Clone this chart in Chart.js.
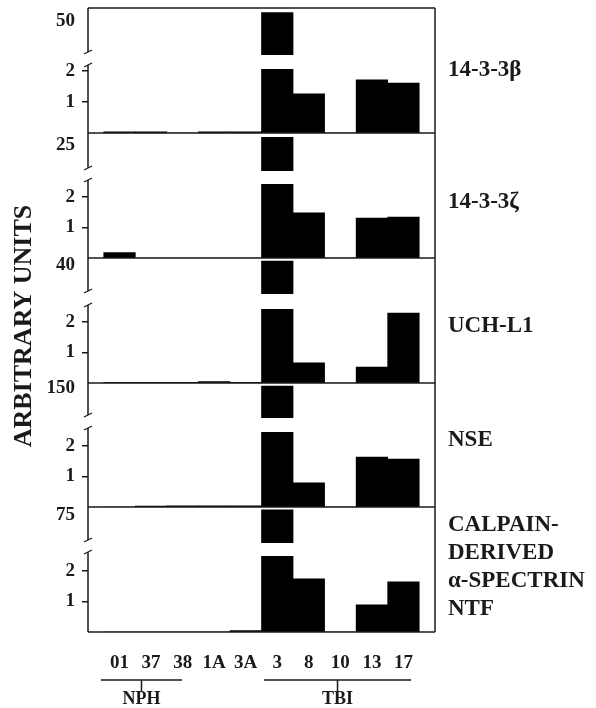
<!DOCTYPE html>
<html>
<head>
<meta charset="utf-8">
<script src="https://cdn.jsdelivr.net/npm/chart.js@4.4.0/dist/chart.umd.min.js"></script>
<style>
  body { margin: 0; background: #fff; }
  #chart { display: block; }
</style>
</head>
<body>
<canvas id="chart" width="596" height="708"></canvas>
<script>
// Patients along the x axis
const CATS = ['01', '37', '38', '1A', '3A', '3', '8', '10', '13', '17'];

// Arbitrary units per marker (patient 3 is off the scale, shown in the upper break)
const BETA  = [0.04, 0.04, 0, 0.04, 0.04, 52, 1.26, 0, 1.71, 1.61];
const ZETA  = [0.18, 0, 0, 0, 0, 27, 1.48, 0, 1.31, 1.34];
const UCHL1 = [0.02, 0.02, 0.02, 0.05, 0.02, 40.5, 0.66, 0, 0.52, 2.3];
const NSE   = [0, 0.03, 0.04, 0.04, 0.04, 150, 0.79, 0, 1.64, 1.57];
const SBDP  = [0, 0, 0, 0, 0.05, 76.4, 1.74, 0, 0.89, 1.64];

const SERIES = [BETA, ZETA, UCHL1, NSE, SBDP];
const NAMES = [['14-3-3β'], ['14-3-3ζ'], ['UCH-L1'], ['NSE'], ['CALPAIN-', 'DERIVED', 'α-SPECTRIN', 'NTF']];

// Broken axis: lower part 0..LO_MAX with ticks 1,2; upper part shows one tick
const LO_TICKS = [1, 2];
const HI_TICK = [50, 25, 40, 150, 75];

// Layout (pixel heights of each panel piece, axis ranges)
const LO_MAX = [2.06, 2.43, 2.43, 2.46, 2.49];
const HI_RANGE = [[38.5, 53.5], [15, 28.5], [30, 41.5], [130, 152], [60, 77.8]];
const HI_H  = [47, 38, 36, 35, 36];
const GAP_H = [14, 13, 15, 14, 13];
const LO_H  = [64, 74, 74, 75, 76];
const NAME_DY = [62, 69, 68, 57, 18]; // label offset from panel top
const GROUPS = [
    { name: 'NPH', from: -0.59, to: 1.98 },
    { name: 'TBI', from: 4.58, to: 9.24 }
];

const SERIF = "'Liberation Serif', 'DejaVu Serif', serif";
const INK = '#1a1a1a';
const AXIS_W = 88;

function tickFont(size) {
    return { family: SERIF, size: size, weight: 'bold' };
}

function yAxis(weight, extra) {
    return Object.assign({
        type: 'linear',
        position: 'left',
        stack: 'panels',
        stackWeight: weight,
        offset: false,
        border: { display: false },
        grid: { display: true, drawOnChartArea: false, drawTicks: true, tickLength: 6, color: INK, lineWidth: 1.5 },
        ticks: { font: tickFont(19), color: INK, padding: 7, autoSkip: false },
        afterFit: s => {
            s.width = AXIS_W;
            s.paddingTop = 0;
            s.paddingBottom = 0;
        }
    }, extra);
}

const scales = {
    x: {
        type: 'linear',
        position: 'bottom',
        min: -1,
        max: CATS.length,
        offset: false,
        grid: { display: false, drawTicks: false, offset: false },
        border: { display: false },
        afterBuildTicks: s => { s.ticks = CATS.map((c, i) => ({ value: i })); },
        ticks: {
            autoSkip: false,
            maxRotation: 0,
            font: tickFont(19),
            color: INK,
            padding: 20,
            callback: v => CATS[v] ?? ''
        },
        afterFit: s => {
            s.height = 76;
            s.paddingLeft = 0;
            s.paddingRight = 0;
        }
    }
};

// stacked left axes are laid out last-defined on top, so add them bottom-up
for (let p = SERIES.length - 1; p >= 0; p--) {
    scales['lo' + p] = yAxis(LO_H[p], {
        min: 0,
        max: LO_MAX[p],
        afterBuildTicks: s => { s.ticks = LO_TICKS.map(v => ({ value: v })); }
    });
    scales['gap' + p] = yAxis(GAP_H[p], {
        min: 0, max: 1,
        grid: { display: false },
        ticks: { display: false }
    });
    scales['hi' + p] = yAxis(HI_H[p], {
        min: HI_RANGE[p][0],
        max: HI_RANGE[p][1],
        afterBuildTicks: s => { s.ticks = [{ value: HI_TICK[p] }]; },
        grid: { display: true, drawOnChartArea: false, drawTicks: true, tickLength: 6, color: 'rgba(0,0,0,0)' },
        ticks: { font: tickFont(19), color: INK, padding: 7, autoSkip: false, labelOffset: 2 }
    });
}

const datasets = [];
SERIES.forEach((vals, p) => {
    ['hi', 'lo'].forEach(part => {
        datasets.push({
            label: NAMES[p].join(' ') + ' ' + part,
            data: vals.map((v, i) => ({ x: i, y: v })),
            yAxisID: part + p,
            xAxisID: 'x',
            backgroundColor: '#000',
            borderWidth: 0,
            barPercentage: 1,
            categoryPercentage: 1,
            grouped: false
        });
    });
});

// keep each half of a broken bar inside its own axis band
const clipToAxis = {
    id: 'clipToAxis',
    beforeDatasetDraw(chart, args) {
        const s = chart.scales[args.meta.yAxisID];
        const ctx = chart.ctx;
        ctx.save();
        ctx.beginPath();
        ctx.rect(chart.chartArea.left, s.top, chart.chartArea.width, s.bottom - s.top);
        ctx.clip();
    },
    afterDatasetDraw(chart) {
        chart.ctx.restore();
    }
};

// frame, broken left axis, panel names, group brackets, y title
const decorations = {
    id: 'decorations',
    afterDraw(chart) {
        const ctx = chart.ctx;
        const area = chart.chartArea;
        const x = chart.scales.x;
        ctx.save();
        ctx.strokeStyle = INK;
        ctx.fillStyle = INK;
        ctx.lineWidth = 1.5;

        // top and right
        ctx.beginPath();
        ctx.moveTo(area.left, area.top);
        ctx.lineTo(area.right, area.top);
        ctx.moveTo(area.right, area.top);
        ctx.lineTo(area.right, area.bottom);
        ctx.stroke();

        SERIES.forEach((vals, p) => {
            const hi = chart.scales['hi' + p];
            const lo = chart.scales['lo' + p];
            const base = lo.getPixelForValue(0);

            // zero line / panel separator
            ctx.beginPath();
            ctx.moveTo(area.left, base);
            ctx.lineTo(area.right, base);
            ctx.stroke();

            // left axis, broken between upper and lower parts
            const b1 = hi.bottom - 3;
            const b2 = lo.top - 4;
            ctx.beginPath();
            ctx.moveTo(area.left, hi.top);
            ctx.lineTo(area.left, b1);
            ctx.moveTo(area.left, b2);
            ctx.lineTo(area.left, lo.bottom);
            ctx.stroke();
            ctx.lineWidth = 1.2;
            ctx.beginPath();
            ctx.moveTo(area.left - 4, b1 + 2);
            ctx.lineTo(area.left + 4, b1 - 2);
            ctx.moveTo(area.left - 4, b2 + 2);
            ctx.lineTo(area.left + 4, b2 - 2);
            ctx.stroke();
            ctx.lineWidth = 1.5;

            // panel name on the right
            ctx.font = 'bold 23px ' + SERIF;
            ctx.textAlign = 'left';
            ctx.textBaseline = 'middle';
            NAMES[p].forEach((line, k) => {
                ctx.fillText(line, area.right + 13, hi.top + NAME_DY[p] + k * 28);
            });
        });

        // group brackets under the x labels
        const lineY = 680;
        GROUPS.forEach(g => {
            const x0 = x.getPixelForValue(g.from);
            const x1 = x.getPixelForValue(g.to);
            const xm = (x0 + x1) / 2;
            ctx.beginPath();
            ctx.moveTo(x0, lineY);
            ctx.lineTo(x1, lineY);
            ctx.moveTo(xm, lineY);
            ctx.lineTo(xm, lineY + 11);
            ctx.stroke();
            ctx.font = 'bold 18px ' + SERIF;
            ctx.textAlign = 'center';
            ctx.textBaseline = 'middle';
            ctx.fillText(g.name, xm, 699);
        });

        // y title
        ctx.translate(24, 326);
        ctx.rotate(-Math.PI / 2);
        ctx.font = 'bold 26px ' + SERIF;
        ctx.textAlign = 'center';
        ctx.textBaseline = 'middle';
        ctx.fillText('ARBITRARY UNITS', 0, 0);
        ctx.restore();
    }
};

new Chart(document.getElementById('chart'), {
    type: 'bar',
    data: { datasets: datasets },
    options: {
        responsive: false,
        animation: false,
        devicePixelRatio: 1,
        layout: { padding: { top: 8, right: 161, bottom: 0, left: 0 } },
        plugins: {
            legend: { display: false },
            title: { display: false },
            tooltip: { enabled: false }
        },
        scales: scales
    },
    plugins: [clipToAxis, decorations]
});
</script>
</body>
</html>
